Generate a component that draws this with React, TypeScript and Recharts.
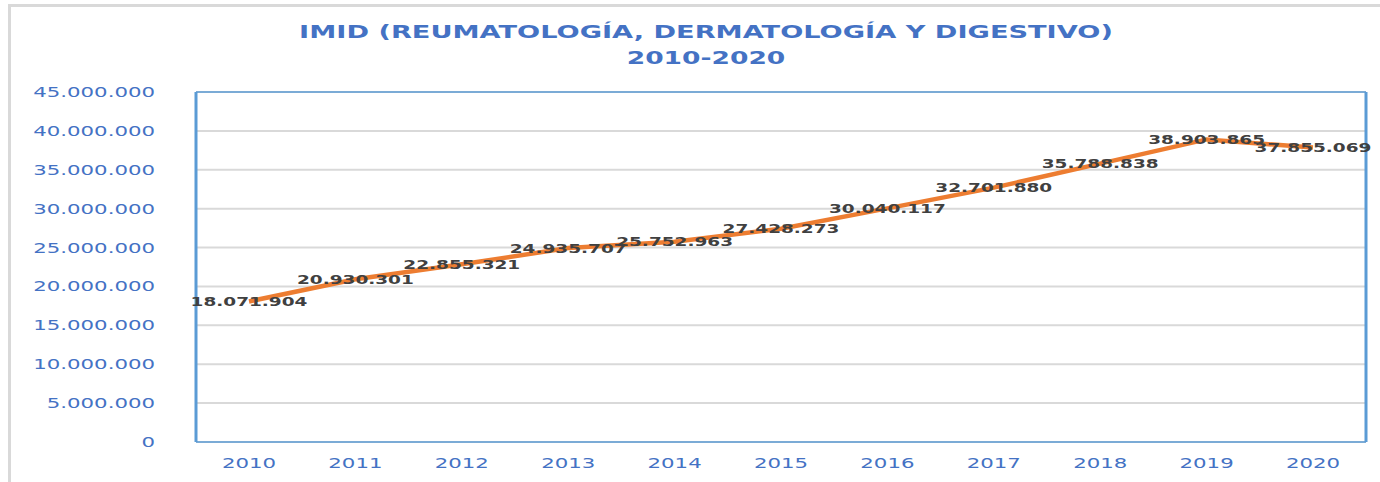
import React from "react";
import { LineChart, Line, XAxis, YAxis, CartesianGrid, LabelList } from "recharts";

const years = ["2010", "2011", "2012", "2013", "2014", "2015", "2016", "2017", "2018", "2019", "2020"];
const pacientes = [18071904, 20930301, 22855321, 24935707, 25752963, 27428273, 30040117, 32701880, 35788838, 38903865, 37855069];
const yTicks = [0, 5000000, 10000000, 15000000, 20000000, 25000000, 30000000, 35000000, 40000000, 45000000];

const data = years.map((year, i) => ({ year, value: pacientes[i] }));

const BLUE = "#4472C4";
const FRAME = "#5B9BD5";
const STRETCH = 1.52;
const FONT = "'DejaVu Sans', Verdana, sans-serif";

// separador de miles con punto
const fmt = (v: number) => String(Math.round(v)).replace(/\B(?=(\d{3})+(?!\d))/g, ".");

const YTick = (props: any) => {
  const { y, payload } = props;
  return (
    <g transform={`translate(155,${y}) scale(${STRETCH},1)`}>
      <text x={0} y={0} dy="0.36em" textAnchor="end" fill={BLUE} fontSize={14} fontFamily={FONT}>
        {payload.value === 0 ? "0" : fmt(payload.value)}
      </text>
    </g>
  );
};

const XTick = (props: any) => {
  const { x, payload } = props;
  return (
    <g transform={`translate(${x},468) scale(${STRETCH},1)`}>
      <text x={0} y={0} textAnchor="middle" fill={BLUE} fontSize={14} fontFamily={FONT}>
        {payload.value}
      </text>
    </g>
  );
};

const ValueLabel = (props: any) => {
  const { x, y, value } = props;
  return (
    <g transform={`translate(${x},${y}) scale(1.48,1)`}>
      <text x={0} y={0} dy="0.36em" textAnchor="middle" fill="#404040" fontSize={12.5} fontWeight="bold" fontFamily={FONT}>
        {fmt(value)}
      </text>
    </g>
  );
};

const titleLine = (top: number, scale: number): React.CSSProperties => ({
  position: "absolute",
  left: 0,
  top,
  width: 1412,
  textAlign: "center",
  color: BLUE,
  fontFamily: FONT,
  fontWeight: "bold",
  fontSize: 17,
  lineHeight: "20px",
  whiteSpace: "nowrap",
  transform: `scaleX(${scale})`,
  transformOrigin: "706px 0",
});

export default function App() {
  return (
    <div style={{ position: "fixed", left: 0, top: 0, width: 1380, height: 482, background: "#fff", overflow: "hidden" }}>
      <div style={{ position: "absolute", left: 8, top: 4, width: 1400, height: 500, border: "3px solid #D9D9D9" }} />
      <div style={titleLine(22, 1.6)}>IMID (REUMATOLOGÍA, DERMATOLOGÍA Y DIGESTIVO)</div>
      <div style={titleLine(48, 1.56)}>2010-2020</div>
      <div style={{ position: "absolute", left: 0, top: 0 }}>
        <LineChart width={1380} height={482} data={data} margin={{ top: 91, right: 13, bottom: 10, left: 0 }}>
          <CartesianGrid vertical={false} stroke="#D9D9D9" strokeWidth={2} />
          <XAxis
            dataKey="year"
            height={30}
            padding={{ left: 53, right: 53 }}
            tickLine={false}
            axisLine={{ stroke: FRAME, strokeWidth: 1.5 }}
            tick={<XTick />}
            interval={0}
          />
          <XAxis
            xAxisId="top"
            dataKey="year"
            orientation="top"
            height={1}
            tick={false}
            tickLine={false}
            axisLine={{ stroke: FRAME, strokeWidth: 1.5 }}
          />
          <YAxis
            width={196}
            domain={[0, 45000000]}
            ticks={yTicks}
            tickLine={false}
            axisLine={{ stroke: FRAME, strokeWidth: 3 }}
            tick={<YTick />}
            interval={0}
          />
          <YAxis
            yAxisId="right"
            orientation="right"
            width={1}
            domain={[0, 45000000]}
            tick={false}
            tickLine={false}
            axisLine={{ stroke: FRAME, strokeWidth: 3 }}
          />
          <Line type="linear" dataKey="value" stroke="#ED7D31" strokeWidth={4.5} dot={false} isAnimationActive={false}>
            <LabelList dataKey="value" content={<ValueLabel />} />
          </Line>
        </LineChart>
      </div>
    </div>
  );
}
